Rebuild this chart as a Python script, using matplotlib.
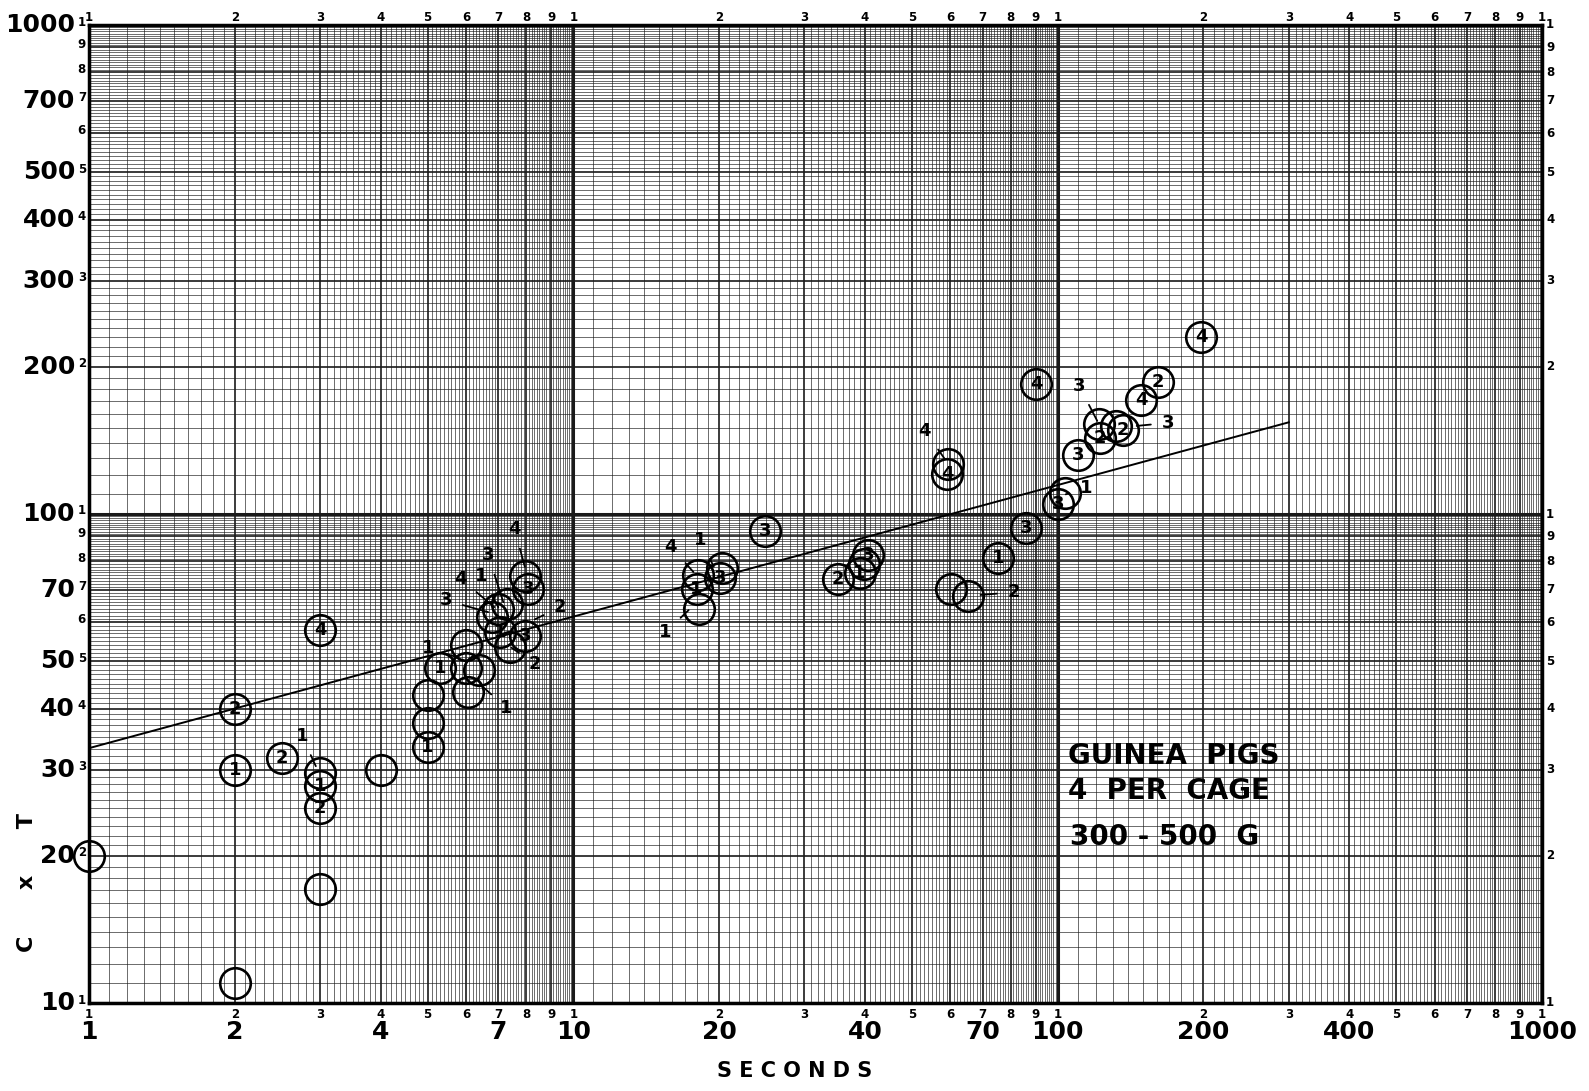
import numpy as np
import matplotlib
matplotlib.use("Agg")
import matplotlib.pyplot as plt
from matplotlib.transforms import offset_copy

# measured points: seconds, C x T, digit written in the circle ("" = empty circle)
pt_x = [1, 2, 2, 2, 2.5, 3, 3, 3, 3, 3, 4,
        5, 5, 5, 5.3, 6.0, 6.05, 6.4, 6.0,
        7.05, 7.0, 7.3, 6.8, 7.94, 8.07, 7.94, 7.4,
        24.9, 17.96, 20.05, 18.2, 18.1, 20.3,
        35.2, 39.0, 39.8, 40.6,
        60.3, 65.3, 75.3, 86.2, 100, 103.4,
        59.1, 59.5, 90.4, 198, 161, 148.9, 136.4, 132, 122.1, 122, 110.1]
pt_y = [20, 40, 30, 11, 31.7, 57.8, 29.5, 27.8, 25.1, 17.1, 30,
        42.7, 37.4, 33.4, 48.4, 48.4, 43.3, 47.9, 54.0,
        57.4, 63.9, 65.5, 61.5, 74.6, 70.2, 56.4, 53.5,
        92.2, 70.2, 74.1, 63.9, 75.0, 77.5,
        73.5, 75.9, 79.0, 82.6,
        70.2, 68.0, 81.4, 93.6, 105, 110.3,
        120.6, 126.5, 184.6, 229.6, 186, 170.8, 148.4, 151, 142.7, 153, 132]
pt_lab = ["", "2", "1", "", "2", "4", "", "1", "2", "", "",
          "", "", "1", "1", "", "", "", "",
          "1", "", "", "", "", "3", "3", "",
          "3", "1", "3", "", "", "",
          "2", "1", "", "3",
          "", "", "1", "3", "3", "",
          "4", "", "4", "4", "2", "4", "2", "", "2", "", "3"]

# hand-written callouts: digit, where it is written, where its stroke ends
call_txt = ["1", "1", "3", "4", "3", "1", "4", "2", "2", "1",
            "4", "1", "1", "2", "1", "3", "3", "4"]
call_tx = [2.75, 5.02, 5.45, 5.86, 6.67, 6.45, 7.56, 9.39, 8.33, 7.28,
           15.9, 18.3, 15.5, 81.3, 114.4, 110.7, 169.1, 53.2]
call_ty = [35.2, 53.1, 66.6, 73.6, 82.5, 74.6, 93.3, 64.5, 49.4, 40.1,
           85.7, 88.6, 57.3, 69.2, 112.9, 183, 153.6, 147.9]
call_px = [2.94, 5.77, 6.67, 6.87, 7.17, 7.0, 7.94, 8.33, 7.45, 6.54,
           17.7, 19.5, 17.3, 69.3, 103.9, 120.7, 145.6, 58.3]
call_py = [30.5, 50.9, 63.0, 64.5, 66.0, 64.5, 78, 60.9, 53.3, 44.1,
           76.1, 78, 63.6, 68.3, 109.7, 155, 151.4, 130.1]

# drawn fit line
fit_x = [1, 300]
fit_y = [33.2, 154]

x_big = [1, 2, 4, 7, 10, 20, 40, 70, 100, 200, 400, 1000]
y_big = [10, 20, 30, 40, 50, 70, 100, 200, 300, 400, 500, 700, 1000]

fig = plt.figure(figsize=(15.89, 10.91), dpi=100)
ax = fig.add_axes([89 / 1589, 1 - 1003 / 1091, (1542 - 89) / 1589, (1003 - 25) / 1091])
ax.set_xscale("log")
ax.set_yscale("log")
ax.set_xlim(1, 1000)
ax.set_ylim(10, 1000)

# graph paper rulings: every 0.1 of each decade, heavier on the integers
def rulings(first_decade):
    pos, lw = [], []
    for d in range(3):
        for m in np.round(np.arange(1, 10, 0.1), 1):
            pos.append(m * first_decade * 10 ** d)
            if m == 1:
                lw.append(2.2)
            elif m == int(m):
                lw.append(1.2)
            else:
                lw.append(0.45)
    return pos, lw

xp, xlw = rulings(1)
for p, w in zip(xp, xlw):
    ax.axvline(p, color="#1a1a1a", lw=w, zorder=0)
yp, ylw = rulings(10)
for p, w in zip(yp, ylw):
    ax.axhline(p, color="#1a1a1a", lw=w, zorder=0)

for s in ax.spines.values():
    s.set_linewidth(2.5)
ax.set_xticks([])
ax.set_yticks([])
ax.minorticks_off()

ax.plot(fit_x, fit_y, color="black", lw=1.4, zorder=2)

ax.plot(pt_x, pt_y, "o", ms=22, mfc="none", mec="black", mew=1.9, zorder=3, clip_on=False)
for x, y, t in zip(pt_x, pt_y, pt_lab):
    if t:
        ax.text(x, y, t, ha="center", va="center", fontsize=13, fontweight="bold", zorder=4)

for t, tx, ty, px, py in zip(call_txt, call_tx, call_ty, call_px, call_py):
    ax.annotate(t, xy=(px, py), xytext=(tx, ty), ha="center", va="center",
                fontsize=13, fontweight="bold", zorder=4,
                arrowprops=dict(arrowstyle="-", lw=1.3, color="black", shrinkA=6, shrinkB=0))

# small printed digits around the border of the paper
small_kw = dict(fontsize=8.5, fontweight="bold", family="DejaVu Sans")
tb = ax.get_xaxis_transform()
ty_ = ax.get_yaxis_transform()
for d in range(3):
    for m in range(1, 10):
        v = m * 10 ** d
        ax.text(v, 0, str(m), transform=offset_copy(tb, fig, y=-5, units="dots"),
                ha="center", va="top", **small_kw)
        ax.text(v, 1, str(m), transform=offset_copy(tb, fig, y=1, units="dots"),
                ha="center", va="bottom", **small_kw)
        vy = m * 10 ** (d + 1)
        if vy > 1000:
            continue
        ax.text(0, vy, str(m), transform=offset_copy(ty_, fig, x=-3, y=3, units="dots"),
                ha="right", va="center", **small_kw)
        ax.text(1, vy, str(m), transform=offset_copy(ty_, fig, x=4, units="dots"),
                ha="left", va="center", **small_kw)
ax.text(1000, 0, "1", transform=offset_copy(tb, fig, y=-5, units="dots"), ha="center", va="top", **small_kw)
ax.text(1000, 1, "1", transform=offset_copy(tb, fig, y=1, units="dots"), ha="center", va="bottom", **small_kw)

big_kw = dict(fontsize=18, fontweight="bold", family="DejaVu Sans")
for v in x_big:
    ax.text(v, 0, str(v), transform=offset_copy(tb, fig, y=-17, units="dots"),
            ha="center", va="top", **big_kw)
for v in y_big:
    ax.text(0, v, str(v), transform=offset_copy(ty_, fig, x=-14, units="dots"),
            ha="right", va="center", **big_kw)

fig.text(795 / 1589, 1 - 1071 / 1091, "S E C O N D S", ha="center", va="center",
         fontsize=15, fontweight="bold")
fig.text(27 / 1589, 1 - 882 / 1091, "C      x      T", ha="center", va="center", rotation=90,
         fontsize=16, fontweight="bold")

box_kw = dict(fontsize=20, fontweight="black", ha="left", va="center", zorder=4)
ax.text(105, 32.0, "GUINEA  PIGS", **box_kw)
ax.text(105, 27.1, "4  PER  CAGE", **box_kw)
ax.text(106, 21.9, "300 - 500  G", **box_kw)

fig.savefig("out.png", dpi=100)
